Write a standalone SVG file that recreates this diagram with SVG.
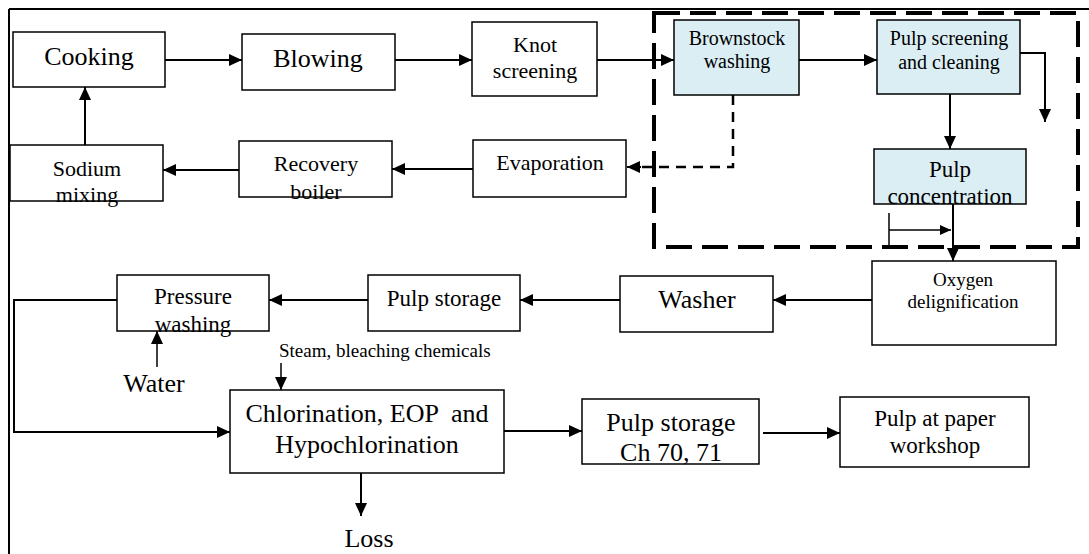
<svg xmlns="http://www.w3.org/2000/svg" width="1089" height="554" viewBox="0 0 1089 554">
<defs>
<marker id="ah" markerUnits="userSpaceOnUse" markerWidth="14" markerHeight="12" refX="13" refY="6" orient="auto"><path d="M0,0 L13,6 L0,12 Z" fill="#000"/></marker>
<marker id="ahs" markerUnits="userSpaceOnUse" markerWidth="12" markerHeight="10" refX="11" refY="5" orient="auto"><path d="M0,0 L11,5 L0,10 Z" fill="#000"/></marker>
<style>
.box{fill:#fff;stroke:#000;stroke-width:1.5}
.blue{fill:#dbeef4;stroke:#000;stroke-width:1.5}
text{font-family:'Liberation Serif',serif;fill:#000;text-anchor:middle}
.c{fill:none;stroke:#000;stroke-width:2}
.cs{fill:none;stroke:#000;stroke-width:1.5}
</style>
</defs>
<rect width="1089" height="554" fill="#fff"/>
<g id="frame">
<path d="M9,9 H1089 M9,9 V554" fill="none" stroke="#000" stroke-width="2"/>
<rect x="654" y="13" width="424" height="234" fill="none" stroke="#000" stroke-width="4" stroke-dasharray="26 10"/>
</g>
<g id="connectors">
<path class="c" d="M165,60 H242" marker-end="url(#ah)"/>
<path class="c" d="M395,60 H472" marker-end="url(#ah)"/>
<path class="c" d="M597,60 H674" marker-end="url(#ah)"/>
<path class="c" d="M799,60 H877" marker-end="url(#ah)"/>
<path class="c" d="M1020,53 H1045 V122" marker-end="url(#ah)"/>
<path class="c" d="M950,94 V149" marker-end="url(#ah)"/>
<path class="c" d="M953,204 V261" marker-end="url(#ah)"/>
<path class="cs" d="M889,213 V247"/>
<path class="cs" d="M889,230 H951" marker-end="url(#ahs)"/>
<path fill="none" stroke="#000" stroke-width="2.5" stroke-dasharray="10 7" d="M733,95 V167 H640"/>
<path class="c" d="M641,167 H627" marker-end="url(#ah)"/>
<path class="c" d="M473,169 H392" marker-end="url(#ah)"/>
<path class="c" d="M239,170 H163" marker-end="url(#ah)"/>
<path class="c" d="M85,145 V87" marker-end="url(#ah)"/>
<path class="c" d="M872,300 H773" marker-end="url(#ah)"/>
<path class="c" d="M620,300 H520" marker-end="url(#ah)"/>
<path class="c" d="M368,300 H269" marker-end="url(#ah)"/>
<path class="c" d="M117,300 H14 V432 H230" marker-end="url(#ah)"/>
<path class="cs" d="M157,367 V331" marker-end="url(#ah)"/>
<path class="cs" d="M281,363 V390" marker-end="url(#ah)"/>
<path class="c" d="M504,431 H582" marker-end="url(#ah)"/>
<path class="c" d="M763,433 H840" marker-end="url(#ah)"/>
<path class="c" d="M361,473 V516" marker-end="url(#ah)"/>
</g>
<g font-family="'Liberation Serif', serif">
<g id="cooking"><rect class="box" x="13" y="32" width="152" height="55"/><text x="89" y="65" font-size="26">Cooking</text></g>
<g id="blowing"><rect class="box" x="242" y="34" width="153" height="56"/><text x="318" y="67" font-size="26">Blowing</text></g>
<g id="knot"><rect class="box" x="472" y="22" width="125" height="74"/><text x="535" y="52" font-size="22">Knot</text><text x="535" y="78" font-size="22">screening</text></g>
<g id="brownstock"><rect class="blue" x="674" y="20" width="125" height="75"/><text x="737" y="45" font-size="20">Brownstock</text><text x="737" y="68" font-size="20">washing</text></g>
<g id="screening"><rect class="blue" x="877" y="20" width="143" height="74"/><text x="949" y="45" font-size="20">Pulp screening</text><text x="949" y="69" font-size="20">and cleaning</text></g>
<g id="sodium"><rect class="box" x="10" y="145" width="153" height="56"/><text x="87" y="176" font-size="22">Sodium</text><text x="87" y="202" font-size="22">mixing</text></g>
<g id="recovery"><rect class="box" x="239" y="141" width="153" height="56"/><text x="316" y="171" font-size="22">Recovery</text><text x="316" y="199" font-size="22">boiler</text></g>
<g id="evaporation"><rect class="box" x="473" y="140" width="153" height="57"/><text x="550" y="170" font-size="22">Evaporation</text></g>
<g id="concentration"><rect class="blue" x="874" y="149" width="152" height="55"/><text x="950" y="177" font-size="23">Pulp</text><text x="950" y="204" font-size="23">concentration</text></g>
<g id="oxygen"><rect class="box" x="872" y="261" width="184" height="84"/><text x="963" y="286" font-size="19">Oxygen</text><text x="963" y="308" font-size="19">delignification</text></g>
<g id="washer"><rect class="box" x="620" y="276" width="153" height="56"/><text x="697" y="308" font-size="26">Washer</text></g>
<g id="storage1"><rect class="box" x="368" y="275" width="152" height="56"/><text x="444" y="306" font-size="23">Pulp storage</text></g>
<g id="pressure"><rect class="box" x="117" y="275" width="152" height="56"/><text x="193" y="304" font-size="23">Pressure</text><text x="193" y="332" font-size="23">washing</text></g>
<g id="water"><text x="154" y="392" font-size="26">Water</text></g>
<g id="steam"><text x="279" y="357" font-size="19" text-anchor="start" style="text-anchor:start">Steam, bleaching chemicals</text></g>
<g id="chlorination"><rect class="box" x="230" y="390" width="274" height="83"/><text x="367" y="422" font-size="26" xml:space="preserve">Chlorination, EOP  and</text><text x="367" y="453" font-size="26">Hypochlorination</text></g>
<g id="loss"><text x="369" y="547" font-size="26">Loss</text></g>
<g id="storage2"><rect class="box" x="582" y="399" width="177" height="65"/><text x="671" y="431" font-size="26">Pulp storage</text><text x="671" y="461" font-size="26">Ch 70, 71</text></g>
<g id="paper"><rect class="box" x="840" y="397" width="189" height="70"/><text x="935" y="426" font-size="23">Pulp at paper</text><text x="935" y="453" font-size="23">workshop</text></g>
</g>
</svg>
